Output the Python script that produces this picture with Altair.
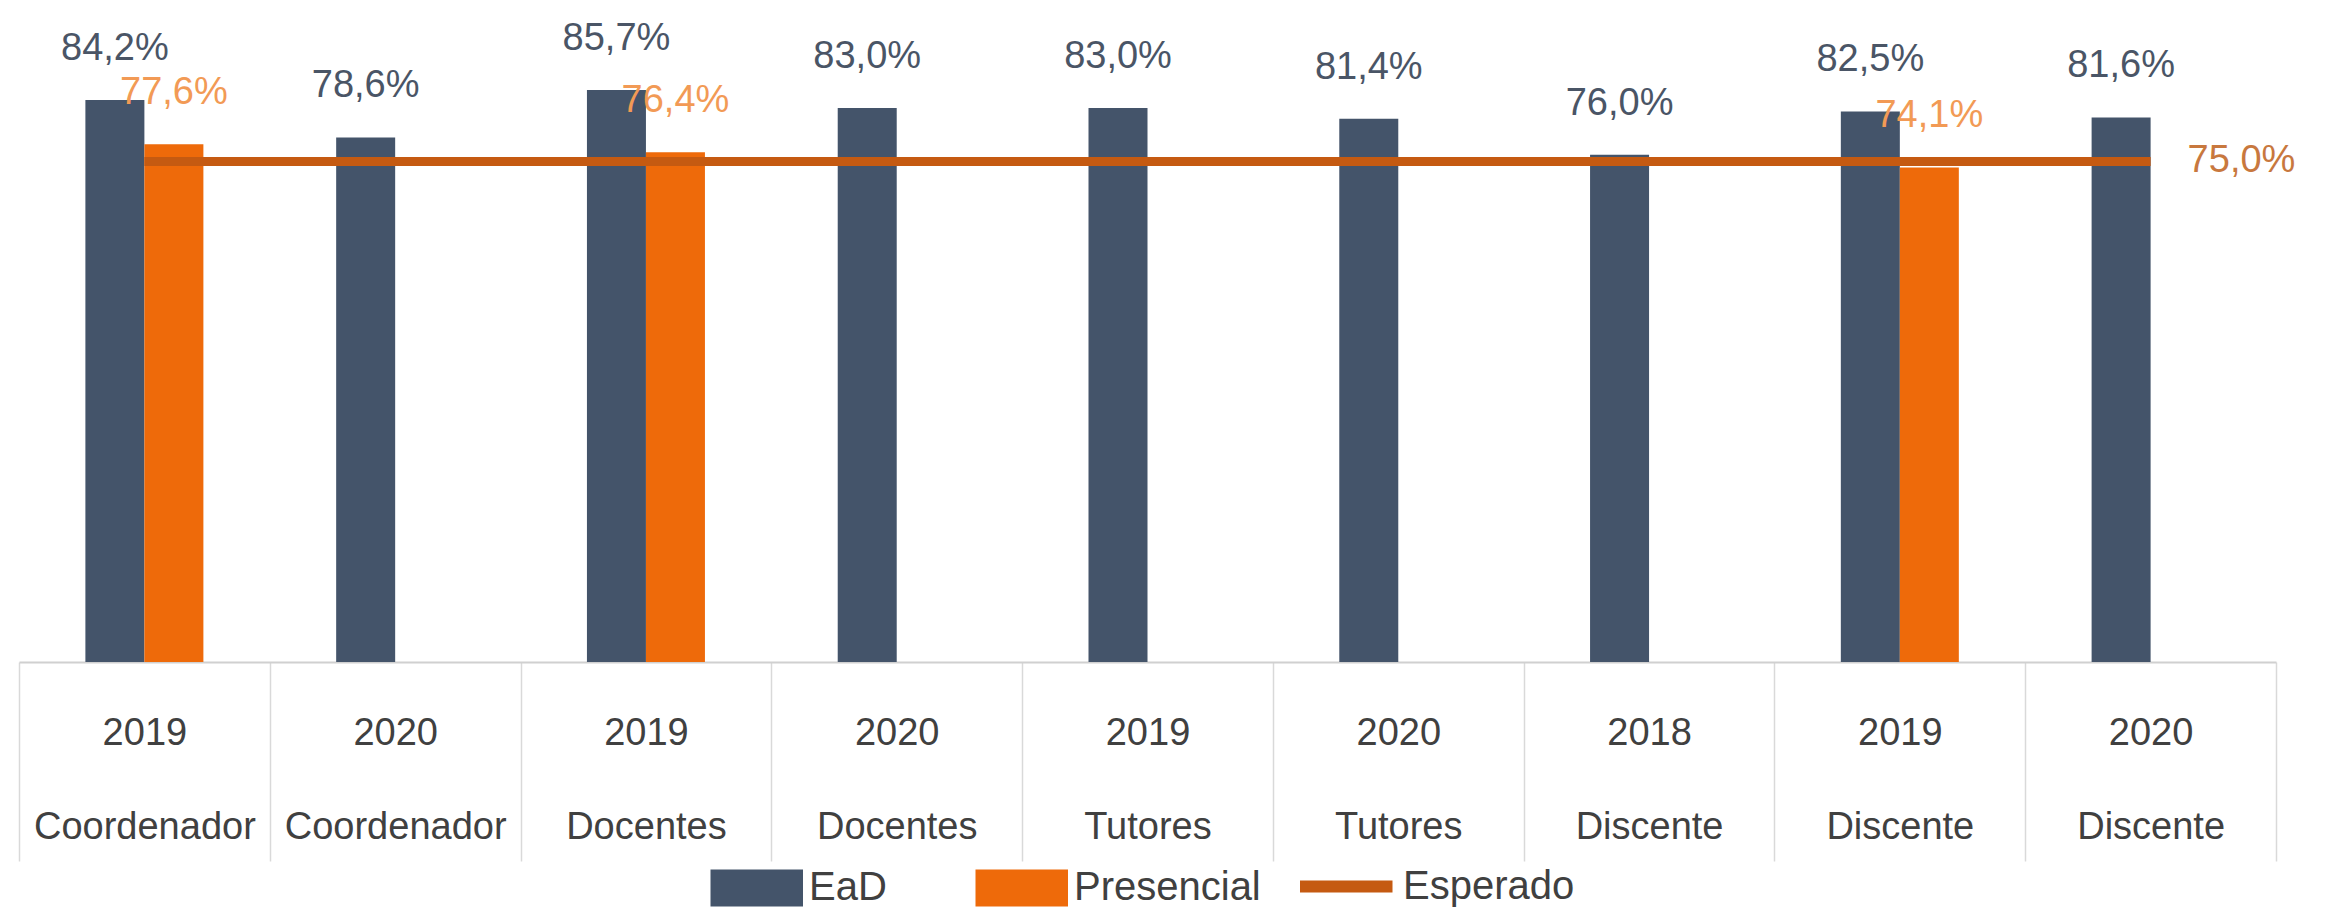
import altair as alt
import pandas as pd

categories = ["2019|Coordenador", "2020|Coordenador", "2019|Docentes", "2020|Docentes",
              "2019|Tutores", "2020|Tutores", "2018|Discente", "2019|Discente", "2020|Discente"]
ead = [84.2, 78.6, 85.7, 83.0, 83.0, 81.4, 76.0, 82.5, 81.6]
presencial = [77.6, None, 76.4, None, None, None, None, 74.1, None]
esperado = [75.0] * 9

bar_series = ["EaD", "Presencial"]
bar_colors = ["#44546A", "#EE6A0A"]
line_series = ["Esperado"]
line_colors = ["#C55A11"]

rows = []
for c, e, p, s in zip(categories, ead, presencial, esperado):
    rows.append({"cat": c, "serie": "EaD", "v": e / 100})
    if p is not None:
        rows.append({"cat": c, "serie": "Presencial", "v": p / 100})
    rows.append({"cat": c, "serie": "Esperado", "v": s / 100})
df = pd.DataFrame(rows)
df["label"] = df["v"].map(lambda x: f"{x*100:.1f}%".replace(".", ","))

W, H = 2257, 654
FONT = "Liberation Sans"

xenc = alt.X("cat:N", sort=categories, title=None,
             scale=alt.Scale(paddingInner=0, paddingOuter=0),
             axis=alt.Axis(labelExpr="datum.value ? split(datum.value, '|') : ''", labelAngle=0,
                           labelFontSize=38, labelFont=FONT, labelColor="#404040",
                           labelLineHeight=94, labelPadding=-147, labelLimit=1000,
                           tickBand="extent", tickSize=199, tickColor="#D9D9D9",
                           tickWidth=1.5, domainColor="#D0D0D0", domainWidth=2))
yenc = alt.Y("v:Q", scale=alt.Scale(domain=[0, 0.98], nice=False, zero=True), axis=None)
leg_common = dict(title=None, orient="none", direction="horizontal",
                  labelFontSize=40, labelFont=FONT, labelColor="#404040",
                  labelOffset=60, labelLimit=1000, symbolSize=1369)
cenc = alt.Color("serie:N", scale=alt.Scale(domain=bar_series, range=bar_colors),
                 legend=alt.Legend(symbolType="M-1,-1h5v2h-5z",
                                   symbolStrokeWidth=0, columnPadding=87, legendX=690,
                                   legendY=860, **leg_common))
senc = alt.Stroke("serie:N", scale=alt.Scale(domain=line_series, range=line_colors),
                  legend=alt.Legend(symbolType="M-1,0h5",
                                    symbolStrokeWidth=12, legendX=1275, legendY=854,
                                    **leg_common))

base = alt.Chart(df)

bar_ead = base.transform_filter("datum.serie == 'EaD'").mark_bar(width=59, xOffset=-29.5).encode(
    x=xenc, y=yenc, color=cenc)
bar_pre = base.transform_filter("datum.serie == 'Presencial'").mark_bar(width=59, xOffset=29.5).encode(
    x=xenc, y=yenc, color=cenc)
line = base.transform_filter("datum.serie == 'Esperado'").mark_line(strokeWidth=9).encode(
    x=xenc, y=yenc, stroke=senc)

txt_ead = base.transform_filter("datum.serie == 'EaD'").mark_text(
    xOffset=-29.5, dy=-32, baseline="bottom", fontSize=38, font=FONT, color="#4A5566").encode(
    x=xenc, y=yenc, text="label:N")
txt_pre = base.transform_filter("datum.serie == 'Presencial'").mark_text(
    xOffset=29.5, dy=-32, baseline="bottom", fontSize=38, font=FONT, color="#F29A55").encode(
    x=xenc, y=yenc, text="label:N")
txt_esp = base.transform_filter("datum.serie == 'Esperado' && datum.cat == '2020|Discente'").mark_text(
    dx=37, align="left", baseline="middle", fontSize=38, font=FONT, color="#C8783E").encode(
    x=xenc, y=yenc, text="label:N")

chart = alt.layer(bar_ead, bar_pre, line, txt_ead, txt_pre, txt_esp).properties(
    width=W, height=H, background="white",
    padding={"left": 10, "top": 0, "right": 5, "bottom": 0},
).configure_view(stroke=None)

chart.save("out.html", embed_options={"renderer": "svg", "actions": False})
